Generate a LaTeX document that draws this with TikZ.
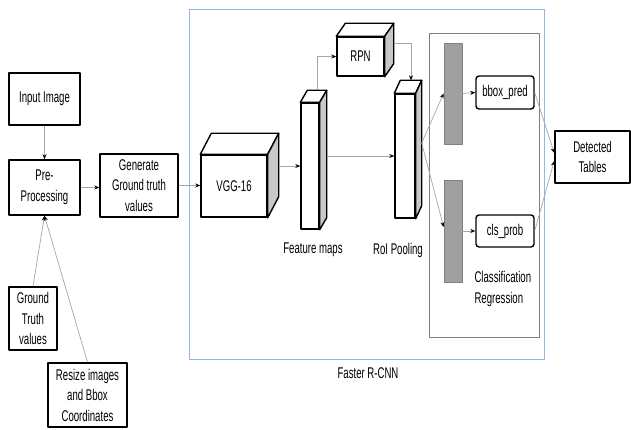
\documentclass[tikz,border=0pt]{standalone}
\usepackage{fontspec}
\setmainfont[FakeStretch=0.62]{Liberation Sans}
\usetikzlibrary{arrows.meta}
\definecolor{framebl}{RGB}{150,180,230}
\definecolor{sidegray}{RGB}{200,200,200}
\definecolor{bargray}{RGB}{160,160,160}
% top and side faces of a block: name, dx, dy
\newcommand{\slab}[3]{%
  \draw[line width=1.4pt, fill=white, line join=round] (#1.north west) -- ++(#2pt,#3pt) -- ([shift={(#2pt,#3pt)}]#1.north east) -- (#1.north east) -- cycle;
  \draw[line width=1.4pt, fill=sidegray, line join=round] (#1.north east) -- ([shift={(#2pt,#3pt)}]#1.north east) -- ([shift={(#2pt,#3pt)}]#1.south east) -- (#1.south east) -- cycle;}
\begin{document}
\begin{tikzpicture}[x=1pt,y=-1pt,line join=round,font=\fontsize{15.5}{20.5}\selectfont,
  box/.style={draw, line width=1.6pt, align=center, inner sep=0pt},
  blk/.style={draw, line width=1.4pt, fill=white, inner sep=0pt},
  bar/.style={draw=gray, fill=bargray, line width=0.8pt, inner sep=0pt, minimum width=18pt},
  rbox/.style={draw, line width=1.4pt, rounded corners=3pt, align=center, inner sep=0pt, minimum width=58pt},
  conn/.style={draw=gray!70, line width=0.7pt, -{Stealth[black,length=5pt,width=4pt]}}]
\useasboundingbox (0,0) rectangle (631,430);

% frames
\draw[framebl, line width=0.8pt] (189,9) rectangle (544,359);
\draw[gray, line width=0.8pt] (429,33) rectangle (539,337);

% left column
\node[box, minimum width=71pt, minimum height=52pt] (inimg) at (44.5,99) {Input Image};
\node[box, minimum width=71pt, minimum height=55pt] (prep) at (44.5,187.5) {Pre-\\Processing};
\node[box, minimum width=78pt, minimum height=63pt] (gen) at (139,185.5) {Generate\\Ground truth\\values};
\node[box, minimum width=48pt, minimum height=63pt] (gtv) at (33,318.5) {Ground\\Truth\\values};
\node[box, minimum width=79pt, minimum height=64pt] (resize) at (87.5,395) {Resize images\\and Bbox\\Coordinates};

% Faster R-CNN blocks
\node[blk, minimum width=66pt, minimum height=62pt] (vgg) at (234,186) {VGG-16};
\slab{vgg}{11}{21}
\node[blk, minimum width=18pt, minimum height=126pt] (fmap) at (310,166) {};
\slab{fmap}{7}{12}
\node[blk, minimum width=47pt, minimum height=39pt] (rpn) at (360.5,56.5) {RPN};
\slab{rpn}{9}{13}
\node[blk, minimum width=20pt, minimum height=124pt] (roi) at (405,156) {};
\slab{roi}{6}{13}
\node (fmlab) at (313,250) {Feature maps};
\node (roilab) at (398,250) {RoI Pooling};

% classification / regression
\node[bar, minimum height=101pt] (bar1) at (453,93.5) {};
\node[bar, minimum height=102pt] (bar2) at (453,231) {};
\node[rbox, minimum height=33pt] (bbox) at (505,92.5) {bbox\_pred};
\node[rbox, minimum height=32pt] (cls) at (505,231) {cls\_prob};
\node[align=left, anchor=west] (clslab) at (471,289) {Classification\\Regression};
\node[box, minimum width=75pt, minimum height=52pt] (det) at (592.5,157) {Detected\\Tables};
\node (frcnn) at (368,373) {Faster R-CNN};

% connectors
\draw[conn] (inimg.south) -- (prep.north);
\draw[conn] (prep.east) -- (prep.east -| gen.west);
\draw[conn] (gen.east) -- (gen.east -| vgg.west);
\draw[conn] (gtv.north) -- (prep.south);
\draw[conn] (resize.north) -- (prep.south);
\draw[conn] ([xshift=11pt]fmap.west -| vgg.east) -- (fmap.west);
\draw[conn] ([xshift=7pt]roi.west -| fmap.east) -- (roi.west);
\draw[conn] ([xshift=7pt,yshift=12pt]fmap.north) |- (rpn.west);
\draw[conn] ([xshift=9pt,yshift=13pt]rpn.east) -| ([xshift=6pt,yshift=13pt]roi.north);
\draw[conn] ([xshift=6pt,yshift=13pt]roi.east) -- (bar1.west);
\draw[conn] ([xshift=6pt,yshift=13pt]roi.east) -- ([yshift=4pt]bar2.west);
\draw[conn] (bar1.east) -- (bbox.west);
\draw[conn] (bar2.east) -- (cls.west);
\draw[conn] (bbox.east) -- ([yshift=4pt]det.west);
\draw[conn] (cls.east) -- ([yshift=-4pt]det.west);
\end{tikzpicture}
\end{document}
